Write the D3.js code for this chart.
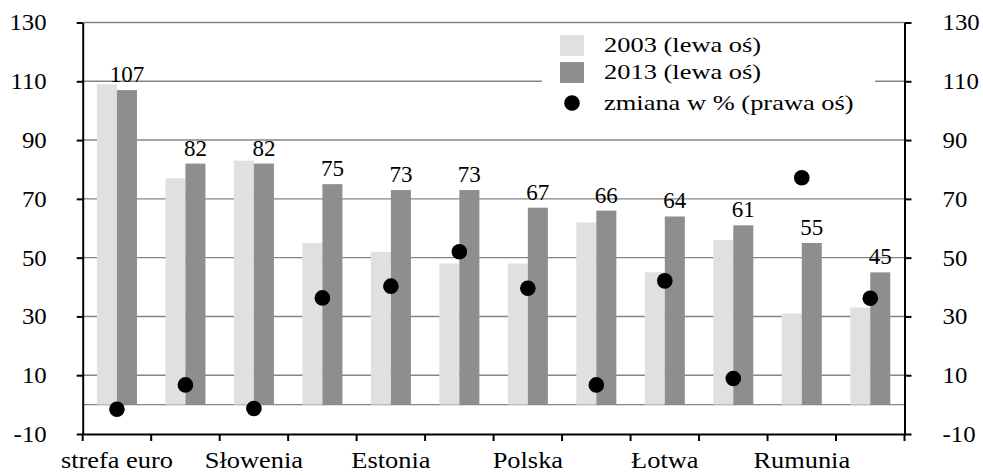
<!DOCTYPE html>
<html>
<head>
<meta charset="utf-8">
<script src="https://cdn.jsdelivr.net/npm/d3@7"></script>
<style>
  body { margin: 0; background: #fff; }
  text { font-family: "Liberation Serif", "Times New Roman", Times, serif; fill: #000; }
</style>
</head>
<body>
<svg id="chart" width="983" height="475"></svg>
<script>
const countries = ['strefa euro', 'Czechy', 'Słowenia', 'Słowacja', 'Estonia', 'Litwa',
                   'Polska', 'Węgry', 'Łotwa', 'Chorwacja', 'Rumunia', 'Bułgaria']
const shownLabels = ['strefa euro', 'Słowenia', 'Estonia', 'Polska', 'Łotwa', 'Rumunia']
const values2003 = [109, 77, 83, 55, 52, 48, 48, 62, 45, 56, 31, 33]
const values2013 = [107, 82, 82, 75, 73, 73, 67, 66, 64, 61, 55, 45]
const changePct = [-1.6, 6.7, -1.3, 36.3, 40.3, 52, 39.6, 6.7, 42.1, 8.9, 77.2, 36.2]
const yTicks = [-10, 10, 30, 50, 70, 90, 110, 130]
const seriesNames = ['2003', '2013']
const legendLabels = ['2003 (lewa oś)', '2013 (lewa oś)', 'zmiana w % (prawa oś)']

const light = '#e0e0e0', dark = '#8e8e8e', gridColor = '#858585'

const svg = d3.select('#chart')
const plotLeft = 82.7, plotRight = 904.5, plotTop = 22.5, plotBottom = 434

const x = d3.scaleBand().domain(countries).range([plotLeft, plotRight]).padding(0)
const x1 = d3.scaleBand().domain(seriesNames).range([0, x.bandwidth()])
  .paddingInner(0).paddingOuter(0.71)
const yLeft = d3.scaleLinear().domain([-10, 130]).range([plotBottom, plotTop])
const yRight = d3.scaleLinear().domain([-10, 130]).range([plotBottom, plotTop])

// stretch text horizontally, keeping its anchor point
function stretch(sel, sx) {
  sel.each(function () {
    const t = d3.select(this)
    const xv = +(t.attr('x') || 0)
    t.attr('x', xv / sx).attr('transform', `scale(${sx},1)`)
  })
}

// gridlines
svg.append('g').selectAll('line')
  .data(yTicks.filter(d => d > -10).concat([0]))
  .enter().append('line')
  .attr('x1', plotLeft).attr('x2', plotRight)
  .attr('y1', d => yLeft(d)).attr('y2', d => yLeft(d))
  .attr('stroke', gridColor).attr('stroke-width', 1.4)

// bars
const groups = svg.append('g').selectAll('g')
  .data(countries)
  .enter().append('g')
  .attr('transform', d => `translate(${x(d)},0)`)

groups.append('rect')
  .attr('x', x1('2003')).attr('width', x1.bandwidth())
  .attr('y', (d, i) => yLeft(values2003[i]))
  .attr('height', (d, i) => yLeft(0) - yLeft(values2003[i]))
  .attr('fill', light)

groups.append('rect')
  .attr('x', x1('2013')).attr('width', x1.bandwidth())
  .attr('y', (d, i) => yLeft(values2013[i]))
  .attr('height', (d, i) => yLeft(0) - yLeft(values2013[i]))
  .attr('fill', dark)

groups.append('text')
  .attr('x', x1('2013') + x1.bandwidth() / 2)
  .attr('y', (d, i) => yLeft(values2013[i]) - 8)
  .attr('text-anchor', 'middle')
  .style('font-size', '23px')
  .text((d, i) => values2013[i])

// dots
groups.append('circle')
  .attr('cx', x.bandwidth() / 2)
  .attr('cy', (d, i) => yRight(changePct[i]))
  .attr('r', 7.8)
  .attr('fill', '#000')

// axes
const axisLeft = svg.append('g')
  .attr('transform', `translate(${plotLeft},0)`)
  .call(d3.axisLeft(yLeft).tickValues(yTicks).tickFormat(d => String(d))
    .tickSize(6).tickPadding(30).tickSizeOuter(0))
const axisRight = svg.append('g')
  .attr('transform', `translate(${plotRight},0)`)
  .call(d3.axisRight(yRight).tickValues(yTicks).tickFormat(d => String(d))
    .tickSize(7).tickPadding(31).tickSizeOuter(0))
const axisBottom = svg.append('g')
  .attr('transform', `translate(0,${plotBottom})`)
  .call(d3.axisBottom(x).tickSize(7).tickSizeOuter(0)
    .tickFormat(d => shownLabels.includes(d) ? d : ''))

;[axisLeft, axisRight, axisBottom].forEach(a => {
  a.attr('font-family', null)
  a.select('.domain').attr('stroke', '#000').attr('stroke-width', 2)
  a.selectAll('.tick line').attr('stroke', '#000').attr('stroke-width', 2)
})
axisLeft.selectAll('text').style('font-size', '23px')
axisRight.selectAll('text').style('font-size', '23px')
stretch(axisLeft.selectAll('text'), 1.08)
stretch(axisRight.selectAll('text'), 1.08)

// category ticks at band edges, labels at centres
axisBottom.selectAll('.tick line').attr('transform', `translate(${-x.bandwidth() / 2},0)`)
axisBottom.append('line')
  .attr('x1', plotRight).attr('x2', plotRight).attr('y1', 0).attr('y2', 7)
  .attr('stroke', '#000').attr('stroke-width', 2)
axisBottom.selectAll('text').style('font-size', '24px')
  .attr('y', 34).attr('dy', 0)
stretch(axisBottom.selectAll('text'), 1.1)
svg.selectAll('.tick text').attr('fill', '#000')

// legend
const legend = svg.append('g')
legend.append('rect')
  .attr('x', 542).attr('y', 29).attr('width', 333).attr('height', 90)
  .attr('fill', '#fff')
const legendRows = legend.selectAll('g.row')
  .data(legendLabels)
  .enter().append('g')
  .attr('class', 'row')
  .attr('transform', (d, i) => `translate(560,${[45, 72, 103][i]})`)
legendRows.filter((d, i) => i < 2).append('rect')
  .attr('x', 0).attr('y', -10).attr('width', 24).attr('height', 21)
  .attr('fill', (d, i) => i === 0 ? light : dark)
legendRows.filter((d, i) => i === 2).append('circle')
  .attr('cx', 12).attr('cy', 0).attr('r', 7.8).attr('fill', '#000')
legendRows.append('text')
  .attr('x', 44).attr('y', 7)
  .style('font-size', '21px')
  .text(d => d)
stretch(legendRows.selectAll('text'), 1.26)
</script>
</body>
</html>
